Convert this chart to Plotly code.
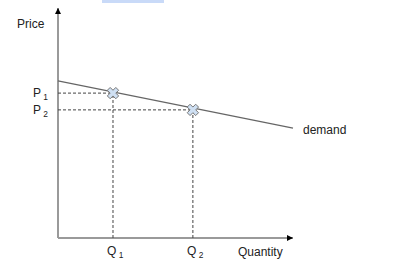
import plotly.graph_objects as go

# Data (in arbitrary quantity / price units)
demand_x = [0.0, 10.0]
demand_y = [6.83, 4.78]
quantities = [2.34, 5.74]
prices = [6.30, 5.57]
q_labels = ["Q<sub> 1</sub>", "Q<sub> 2</sub>"]
p_labels = ["P<sub> 1</sub>", "P<sub> 2</sub>"]
axis_max_x = 10.0
axis_max_y = 10.0

FONT = "Liberation Sans, Arial, sans-serif"
FS = 12
fig = go.Figure()

# axes as lines
fig.add_trace(go.Scatter(x=[0, axis_max_x], y=[0, 0], mode="lines",
                         line=dict(color="#9a9a9a", width=2), hoverinfo="skip"))
fig.add_trace(go.Scatter(x=[0, 0], y=[0, axis_max_y], mode="lines",
                         line=dict(color="#9a9a9a", width=2), hoverinfo="skip"))

# dashed guides
for q, p in zip(quantities, prices):
    fig.add_trace(go.Scatter(x=[0, q], y=[p, p], mode="lines",
                             line=dict(color="#444", width=1, dash="3px,2px"), hoverinfo="skip"))
    fig.add_trace(go.Scatter(x=[q, q], y=[0, p], mode="lines",
                             line=dict(color="#444", width=1, dash="3px,2px"), hoverinfo="skip"))

# demand line
fig.add_trace(go.Scatter(x=demand_x, y=demand_y, mode="lines",
                         line=dict(color="#666", width=1.3), hoverinfo="skip"))

# equilibrium points
fig.add_trace(go.Scatter(x=quantities, y=prices, mode="markers",
                         marker=dict(symbol="x", size=10, color="#cfe0f3",
                                     line=dict(color="#777", width=1)), hoverinfo="skip"))

# arrowheads
fig.add_annotation(x=axis_max_x, y=0, ax=axis_max_x - 0.25, ay=0, xref="x", yref="y",
                   axref="x", ayref="y", text="", showarrow=True, arrowhead=2,
                   arrowsize=0.8, arrowwidth=1.5, arrowcolor="#000")
fig.add_annotation(x=0, y=axis_max_y, ax=0, ay=axis_max_y - 0.3, xref="x", yref="y",
                   axref="x", ayref="y", text="", showarrow=True, arrowhead=2,
                   arrowsize=0.8, arrowwidth=1.5, arrowcolor="#000")

# labels
fig.add_annotation(x=-1.83, y=9.3, text="Price", showarrow=False, xanchor="left",
                   font=dict(family=FONT, size=FS, color="#222"))
for p, lab in zip(prices, p_labels):
    fig.add_annotation(x=-0.32, y=p - 0.05, text=lab, showarrow=False, xanchor="right",
                       font=dict(family=FONT, size=FS, color="#222"))
for q, lab in zip(quantities, q_labels):
    fig.add_annotation(x=q + 0.12, y=-0.62, text=lab, showarrow=False,
                       font=dict(family=FONT, size=FS, color="#222"))
fig.add_annotation(x=7.57, y=-0.62, text="Quantity", showarrow=False, xanchor="left",
                   font=dict(family=FONT, size=FS, color="#222"))
fig.add_annotation(x=10.33, y=4.7, text="demand", showarrow=False, xanchor="left",
                   font=dict(family=FONT, size=FS, color="#222"))

# light blue selection strip at top
fig.add_shape(type="rect", xref="paper", yref="paper",
              x0=102/400, x1=164/400, y0=1 - 3/268, y1=1,
              fillcolor="#c9daf8", line=dict(width=0))

fig.update_layout(
    width=400, height=268, margin=dict(l=0, r=0, t=0, b=0),
    paper_bgcolor="white", plot_bgcolor="white", showlegend=False,
    xaxis=dict(range=[-58/23.5, 342/23.5], visible=False, fixedrange=True),
    yaxis=dict(range=[-30/23, 238/23], visible=False, fixedrange=True),
)
fig.write_html("out.html")
